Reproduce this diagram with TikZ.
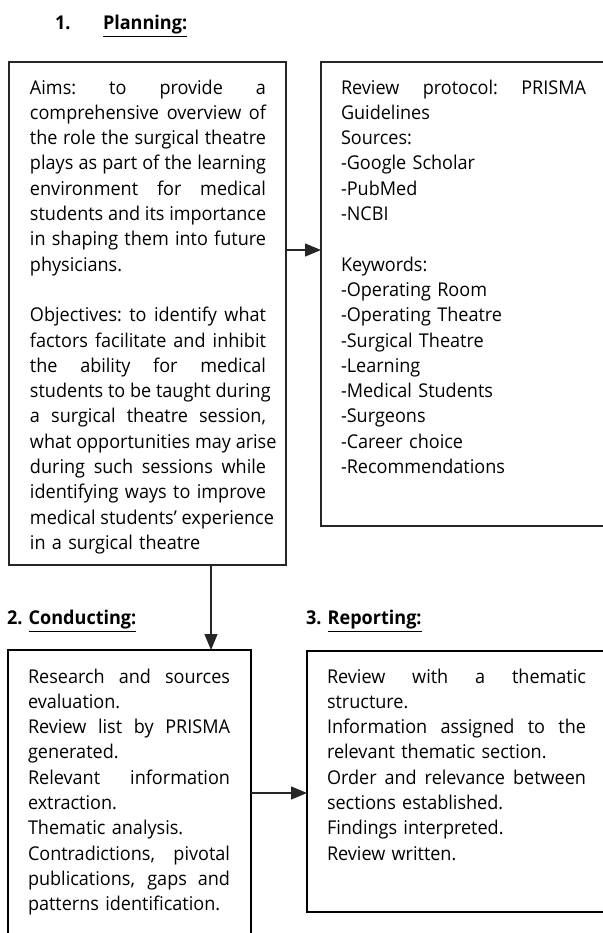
\documentclass[tikz,border=0pt]{standalone}
\usepackage{fontspec}
\setmainfont{Open Sans}[FakeStretch=0.95]
\usetikzlibrary{arrows.meta}
\newlength\jw
\newcommand\jl[1]{\makebox[\jw][s]{\spaceskip=0.25em plus 1fil\xspaceskip=\spaceskip #1}}
\tikzset{
  boxthin/.style={draw=black!85, line width=0.6pt, inner sep=0pt, outer sep=0pt, anchor=north west},
  boxthick/.style={draw=black, line width=1pt, inner sep=0pt, outer sep=0pt, anchor=north west},
  txt/.style={inner sep=0pt, outer sep=0pt, anchor=base west, align=left, font=\fontsize{9.5}{12.65}\selectfont},
  ttl/.style={inner sep=0pt, outer sep=0pt, anchor=base west, font=\fontsize{9.5}{12.65}\selectfont\bfseries},
  conn/.style={draw=black!85, line width=0.6pt, -{Triangle[length=8pt,width=6.5pt]}}
}
\begin{document}
\begin{tikzpicture}[x=0.5pt,y=-0.5pt]
\clip (0,0) rectangle (603,933);
\fill[white] (0,0) rectangle (603,933);
% titles
\node[ttl] (h1n) at (55,29) {1.};
\node[ttl] (h1) at (103,29) {\underline{Planning:}};
\node[ttl] (h2) at (7,624) {2. \underline{Conducting:}};
\node[ttl] (h3) at (306,624) {3. \underline{Reporting:}};
% boxes
\node[boxthin, minimum width=138.5pt, minimum height=251.5pt] (b1) at (9,62) {};
\node[boxthin, minimum width=147pt, minimum height=232pt] (b2) at (321,62) {};
\node[boxthick, minimum width=121.5pt, minimum height=150pt] (b3) at (8,650) {};
\node[boxthick, minimum width=154pt, minimum height=130.5pt] (b4) at (307,651) {};
% texts
\node[txt, text width=118pt] (t1) at (30,94) {\setlength\jw{118pt}%
\jl{Aims: to provide a}\\
\jl{comprehensive overview of}\\
\jl{the role the surgical theatre}\\
\jl{plays as part of the learning}\\
\jl{environment for medical}\\
\jl{students and its importance}\\
\jl{in shaping them into future}\\
physicians.\\[12.65pt]
\jl{Objectives: to identify what}\\
\jl{factors facilitate and inhibit}\\
\jl{the ability for medical}\\
\jl{students to be taught during}\\
\jl{a surgical theatre session,}\\
\jl{what opportunities may arise}\\
\jl{during such sessions while}\\
\jl{identifying ways to improve}\\
\jl{medical students’ experience}\\
in a surgical theatre};
\node[txt, text width=122.5pt] (t2) at (341,94) {\setlength\jw{122.5pt}%
\jl{Review protocol: PRISMA}\\
Guidelines\\
Sources:\\
-Google Scholar\\
-PubMed\\
-NCBI\\[12.65pt]
Keywords:\\
-Operating Room\\
-Operating Theatre\\
-Surgical Theatre\\
-Learning\\
-Medical Students\\
-Surgeons\\
-Career choice\\
-Recommendations};
\node[txt, text width=101pt] (t3) at (28,683) {\setlength\jw{101pt}%
\jl{Research and sources}\\
evaluation.\\
\jl{Review list by PRISMA}\\
generated.\\
\jl{Relevant information}\\
extraction.\\
Thematic analysis.\\
\jl{Contradictions, pivotal}\\
\jl{publications, gaps and}\\
patterns identification.};
\node[txt, text width=129.5pt] (t4) at (327,683) {\setlength\jw{129.5pt}%
\jl{Review with a thematic}\\
structure.\\
\jl{Information assigned to the}\\
relevant thematic section.\\
\jl{Order and relevance between}\\
sections established.\\
Findings interpreted.\\
Review written.};
% connectors
\path (b1.north east) ++(0,188) coordinate (p1);
\draw[conn] (p1) -- (p1 -| b2.west);
\path (b1.south west) ++(202,0) coordinate (p2);
\draw[conn] (p2) -- (p2 |- b3.north);
\path (b3.north east) ++(0,143) coordinate (p3);
\draw[conn] (p3) -- (p3 -| b4.west);
\end{tikzpicture}
\end{document}
